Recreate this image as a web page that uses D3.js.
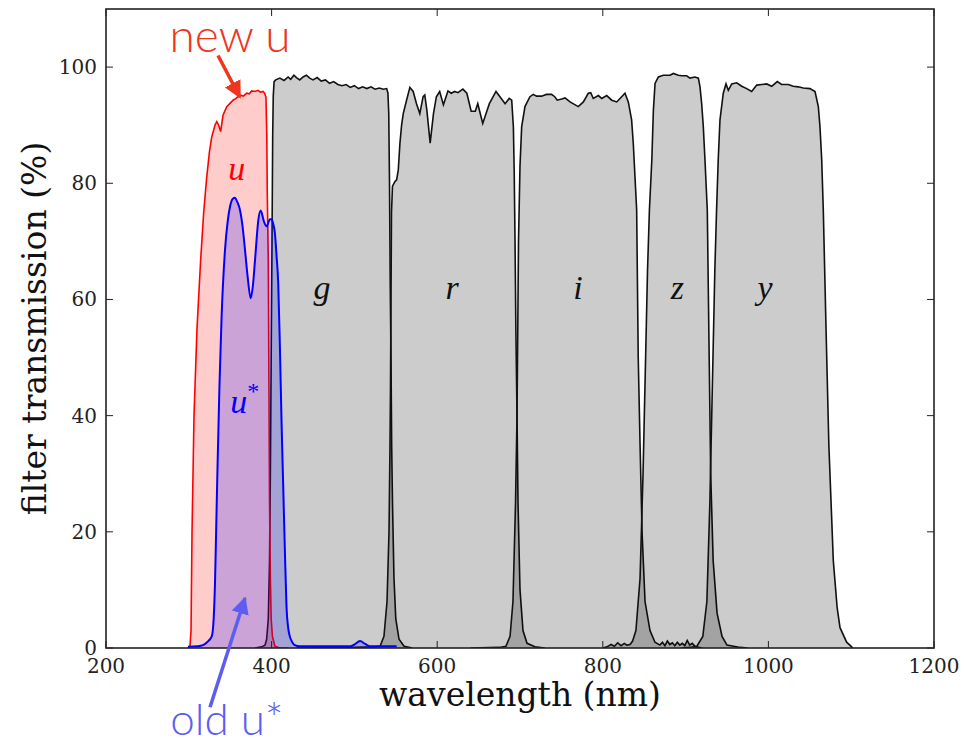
<!DOCTYPE html>
<html>
<head>
<meta charset="utf-8">
<title>Filter transmission</title>
<script src="https://d3js.org/d3.v7.min.js"></script>
<style>
body { margin: 0; background: #fff; }
.tick-label { font-family: "DejaVu Serif", serif; font-size: 20px; fill: #222; }
.axis-title { font-family: "DejaVu Serif", serif; font-size: 33px; fill: #111; }
.band-label { font-family: "Liberation Serif", serif; font-style: italic; font-size: 34px; fill: #111; }
.note { font-family: Lato, "Open Sans", sans-serif; font-weight: 300; font-size: 46px; }
</style>
</head>
<body>
<div id="chart"></div>
<script>
// wavelength (nm), transmission (%)
var uNew = [[299,0],[301.4,0.3],[302.7,3],[303.9,20],[306.3,40],[309.9,55],[314.4,67],[318,75],[321.6,81],[325,85.5],[327.7,88],[331.6,90],[333.7,90.6],[336,90],[338.5,88.9],[341.3,91.7],[345.8,93.2],[350,93.8],[353.4,94.3],[357,94.6],[361.8,95.2],[366,95],[369.9,95.5],[373,95.4],[375.9,95.9],[380,95.8],[383.6,96],[386.5,95.7],[389.6,95.8],[391.5,95.5],[393.2,94.8],[394.2,88],[394.8,78],[396,66.8],[396.8,45],[397.5,25],[398.5,12],[399.5,5],[401,2],[404,0.3],[410,0],[420,0]];

var uStar = [[299,0.2],[310,0.3],[317,0.5],[322,1],[327.7,2],[330,5],[331.6,11],[333,20],[334.5,30],[337,45],[339.6,57],[343.7,68.5],[347,73.5],[349.8,76],[353,77.3],[355.8,77.5],[358.5,76.8],[361.8,75.4],[365,72.5],[367.9,68.5],[371,64],[374.8,60.2],[377.5,62.5],[380,66.8],[384,73.7],[386.8,75.3],[390.8,73.4],[394,72.6],[398,73.8],[400,73.8],[402,73],[404,71.4],[406,67.5],[408,62.8],[410,52],[412,39],[414,28],[416,17],[418,7.1],[420,3.5],[422,2],[425,1],[428,0.5],[434,0.3],[495,0.3],[500,0.6],[506.8,1.2],[513,0.7],[519,0.3],[551,0.3]];

var bandG = [[380,0],[388,0.2],[392,0.5],[394,1.5],[396,5],[397.5,15],[398.5,30],[399.5,50],[400.5,70],[401.3,88],[402,95],[403,97.5],[405,97.8],[410,98.1],[415,97.7],[420,98.3],[423,97.9],[427,98.6],[430,98.2],[434,97.8],[438,98.3],[442,98.6],[446,98.1],[450,97.8],[455,98.2],[460,97.6],[465,97.8],[470,97.2],[475,97.5],[480,97],[485,96.8],[490,97],[495,96.5],[500,96.8],[505,96.3],[510,96.6],[515,96.3],[520,96.6],[525,96.2],[530,96.4],[535,96.2],[539,96.3],[540.5,95.5],[541.5,92],[542.4,80],[543.3,62],[544.2,50],[545,35],[546,25],[547.8,12],[550,5],[553.9,1.5],[560,0.3],[570,0]];

var bandR = [[430,0],[500,0.1],[525,0.2],[531,0.3],[535.7,2],[539.4,8],[541.8,20],[543,35],[543.6,45],[544.8,75],[546,79.5],[547.8,80],[549,80.3],[551,80.6],[553,82.3],[555,86.9],[557,90],[559,92],[563,94.3],[567,96.5],[571,95.8],[575,93.7],[579,92],[583,94.9],[585,95.2],[587.5,92.6],[591.5,86.9],[595.5,92],[599,94.9],[603,95.8],[607.5,93.5],[613,95.9],[617,95.5],[621,95.8],[625,95.6],[631,96.2],[635.8,95.5],[641,92.4],[646,92.4],[649,93.7],[655,90.3],[659,92],[663,93.7],[671,95.8],[675.8,94.9],[682,93.7],[687,94.6],[690,94.3],[692,89.7],[693,82],[694,70],[695,55],[696.4,40],[697.6,25],[700,10],[703.6,3],[708.5,0.8],[718,0.2],[730,0]];

var bandI = [[640,0],[675,0.1],[683,0.3],[688,2],[691.5,8],[694.6,25],[696.4,40],[698.2,70],[700,83],[702,89.7],[706,93.2],[712,94.9],[716,95.3],[720,95],[726,95],[732,95.3],[738,95.3],[742,94.9],[745,94.3],[750.4,94.5],[754.4,94.7],[760.4,94],[770.4,93.2],[776.5,94],[782.5,95.5],[785.4,95.6],[788.5,94.6],[794.6,95.1],[798.7,94.6],[804.7,95.1],[810.8,94.3],[816.8,94],[820.8,94.6],[826.8,95.5],[830.8,94],[834.8,90.9],[836.8,86.9],[840.9,75.4],[842.8,50],[845,35],[847.4,20],[851,8],[857,3],[863,1],[869,0.5],[872,1],[875,0.4],[878,1.2],[881,0.6],[884,0.9],[887,0.4],[890,1],[893,0.5],[896,0.8],[899,0.4],[902,1.3],[905,0.5],[908,0.8],[912,0.2],[920,0]];

var bandZ = [[800,0],[805,0.2],[810,0.6],[814,0.3],[818,0.9],[822,0.4],[826,0.8],[829,0.5],[832.9,0.6],[836,1.2],[840,3],[845,12],[848.6,30],[851.7,50],[854,65],[856.3,75.4],[859.2,84],[861.1,92.6],[863.1,97.2],[867.1,98.3],[873.1,98.6],[881.2,98.6],[885.2,98.9],[891.2,98.6],[895.3,98.5],[901.3,98.5],[905.3,98.1],[911.4,98.3],[915.4,98.1],[917.4,96.6],[919.4,93.7],[921.4,89.7],[923.4,84],[926.2,75.4],[928.5,50],[930.3,30],[933.3,15],[938,6],[944,2],[950,0.5],[966,0.1],[975,0]];

var bandY = [[895,0],[905,0.1],[913.6,0.3],[920.8,2],[925.7,8],[929.3,25],[932.3,45],[935.3,65],[937.4,75.4],[939.4,84],[941.5,90.9],[945.5,95.5],[948.8,97.1],[951.6,96],[955.7,97.1],[961.7,97.3],[967.8,96.7],[973.8,96.3],[979.8,95.8],[985.9,96.9],[992,97],[997.9,97.1],[1004,96.7],[1010.7,97.5],[1016,97],[1024,97],[1030,96.7],[1036,96.6],[1042.2,96.4],[1050.2,96.3],[1056.3,95.8],[1060.3,93.2],[1062.3,89.7],[1064.4,84],[1066.3,75.4],[1069.6,55],[1073,35],[1078.4,15],[1083,7],[1086.5,3.5],[1094.5,1],[1100.6,0.2],[1102,0]];

var bandNames = ["g", "r", "i", "z", "y"];
var bandLabelWl = [461, 618, 770, 890, 996];
var bandLabelT = 60;
var xTicks = [200, 400, 600, 800, 1000, 1200];
var yTicks = [0, 20, 40, 60, 80, 100];

var width = 964, height = 747;
var margin = {top: 9, right: 30, bottom: 99, left: 106};
var pw = width - margin.left - margin.right,
    ph = height - margin.top - margin.bottom;

var x = d3.scaleLinear().domain([200, 1200]).range([0, pw]);
var y = d3.scaleLinear().domain([0, 110]).range([ph, 0]);

var svg = d3.select("#chart").append("svg")
    .attr("width", width)
    .attr("height", height);

var defs = svg.append("defs");
defs.append("clipPath").attr("id", "plotclip")
  .append("rect").attr("width", pw).attr("height", ph);

function arrowHead(id, color) {
  defs.append("marker")
      .attr("id", id)
      .attr("viewBox", "0 0 10 10")
      .attr("refX", 9).attr("refY", 5)
      .attr("markerWidth", 5).attr("markerHeight", 5)
      .attr("markerUnits", "strokeWidth")
      .attr("orient", "auto")
    .append("path")
      .attr("d", "M0,0 L10,5 L0,10 z")
      .attr("fill", color);
}
arrowHead("headRed", "#ef3420");
arrowHead("headBlue", "#5d5df0");

var g = svg.append("g")
    .attr("transform", "translate(" + margin.left + "," + margin.top + ")");

var plot = g.append("g").attr("clip-path", "url(#plotclip)");

var area = d3.area()
    .x(function(d) { return x(d[0]); })
    .y0(y(0))
    .y1(function(d) { return y(d[1]); });
var line = d3.line()
    .x(function(d) { return x(d[0]); })
    .y(function(d) { return y(d[1]); });

// grey bands
[bandG, bandR, bandI, bandZ, bandY].forEach(function(b) {
  plot.append("path").datum(b)
      .attr("d", area)
      .attr("fill", "#000")
      .attr("fill-opacity", 0.2);
  plot.append("path").datum(b)
      .attr("d", line)
      .attr("fill", "none")
      .attr("stroke", "#111")
      .attr("stroke-width", 1.6);
});

// new u (red)
plot.append("path").datum(uNew)
    .attr("d", area)
    .attr("fill", "red")
    .attr("fill-opacity", 0.2);
plot.append("path").datum(uNew)
    .attr("d", line)
    .attr("fill", "none")
    .attr("stroke", "red")
    .attr("stroke-width", 1.6);

// old u* (blue)
var smoothArea = d3.area().curve(d3.curveMonotoneX)
    .x(function(d) { return x(d[0]); })
    .y0(y(0))
    .y1(function(d) { return y(d[1]); });
var smoothLine = d3.line().curve(d3.curveMonotoneX)
    .x(function(d) { return x(d[0]); })
    .y(function(d) { return y(d[1]); });
plot.append("path").datum(uStar)
    .attr("d", smoothArea)
    .attr("fill", "blue")
    .attr("fill-opacity", 0.2);
plot.append("path").datum(uStar)
    .attr("d", smoothLine)
    .attr("fill", "none")
    .attr("stroke", "blue")
    .attr("stroke-width", 2);

// band letters
bandNames.forEach(function(n, i) {
  g.append("text")
      .attr("class", "band-label")
      .attr("x", x(bandLabelWl[i]))
      .attr("y", y(bandLabelT))
      .attr("text-anchor", "middle")
      .text(n);
});
g.append("text")
    .attr("class", "band-label")
    .style("fill", "red")
    .attr("x", x(358)).attr("y", y(80.5))
    .attr("text-anchor", "middle")
    .text("u");
var us = g.append("text")
    .attr("class", "band-label")
    .style("fill", "blue")
    .attr("x", x(350)).attr("y", y(40.4));
us.append("tspan").text("u");
us.append("tspan").attr("dy", -14).style("font-size", "24px").style("font-style", "normal").text("*");

// frame and ticks
g.append("rect")
    .attr("width", pw).attr("height", ph)
    .attr("fill", "none")
    .attr("stroke", "#222")
    .attr("stroke-width", 1.6);

var tickLen = 7;
xTicks.forEach(function(t) {
  g.append("line").attr("x1", x(t)).attr("x2", x(t))
      .attr("y1", ph).attr("y2", ph - tickLen).attr("stroke", "#222");
  g.append("line").attr("x1", x(t)).attr("x2", x(t))
      .attr("y1", 0).attr("y2", tickLen).attr("stroke", "#222");
  g.append("text").attr("class", "tick-label")
      .attr("x", x(t)).attr("y", ph + 25)
      .attr("text-anchor", "middle")
      .text(t);
});
yTicks.forEach(function(t) {
  g.append("line").attr("x1", 0).attr("x2", tickLen)
      .attr("y1", y(t)).attr("y2", y(t)).attr("stroke", "#222");
  g.append("line").attr("x1", pw).attr("x2", pw - tickLen)
      .attr("y1", y(t)).attr("y2", y(t)).attr("stroke", "#222");
  g.append("text").attr("class", "tick-label")
      .attr("x", -9).attr("y", y(t))
      .attr("dy", "0.35em")
      .attr("text-anchor", "end")
      .text(t);
});

// axis titles
g.append("text").attr("class", "axis-title")
    .attr("x", pw / 2).attr("y", ph + 58)
    .attr("text-anchor", "middle")
    .text("wavelength (nm)");
g.append("text").attr("class", "axis-title")
    .attr("transform", "translate(-60," + (ph / 2) + ") rotate(-90)")
    .attr("text-anchor", "middle")
    .text("filter transmission (%)");

// annotations
g.append("text").attr("class", "note")
    .style("fill", "#ef3420")
    .attr("x", x(349.8)).attr("y", y(102.6))
    .attr("text-anchor", "middle")
    .text("new u");
g.append("line")
    .attr("x1", x(335.3)).attr("y1", y(102))
    .attr("x2", x(361.8)).attr("y2", y(94.8))
    .attr("stroke", "#ef3420").attr("stroke-width", 3.5)
    .attr("marker-end", "url(#headRed)");

g.append("text").attr("class", "note")
    .style("fill", "#5d5df0")
    .style("font-size", "44px")
    .attr("x", x(346)).attr("y", y(-15))
    .attr("text-anchor", "middle")
    .text("old u*");
g.append("line")
    .attr("x1", x(325.6)).attr("y1", y(-10.2))
    .attr("x2", x(367.9)).attr("y2", y(8.6))
    .attr("stroke", "#5d5df0").attr("stroke-width", 3.5)
    .attr("marker-end", "url(#headBlue)");
</script>
</body>
</html>
